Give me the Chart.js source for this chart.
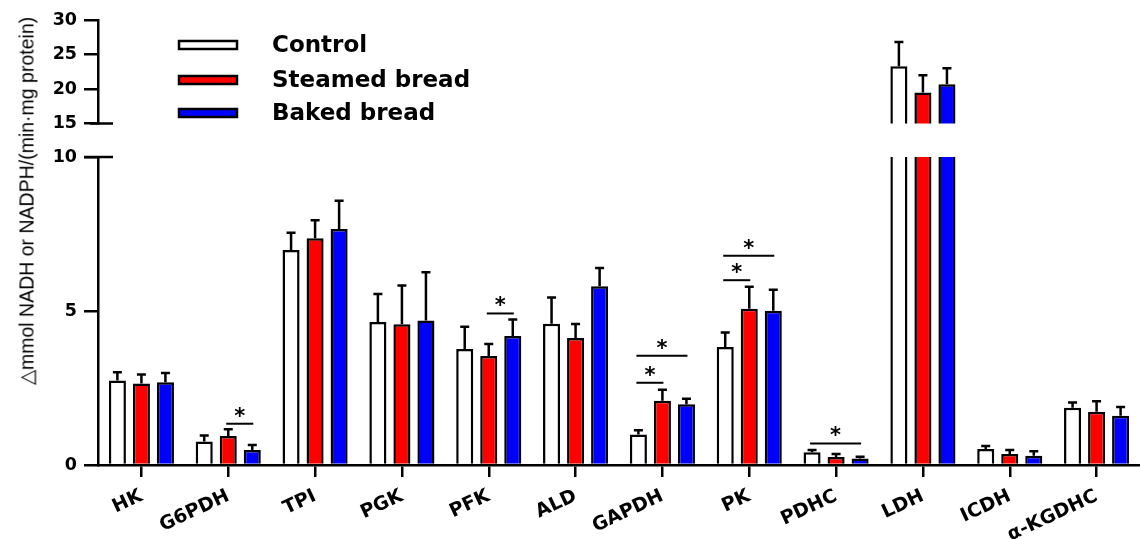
<!DOCTYPE html>
<html>
<head>
<meta charset="utf-8">
<script src="https://cdn.jsdelivr.net/npm/chart.js@4/dist/chart.umd.min.js"></script>
<style>
  html, body { margin: 0; padding: 0; background: #fff; overflow: hidden; }
  #wrap { position: relative; width: 1140px; height: 539px; }
  #topc { position: absolute; left: 0; top: 0; }
  #botc { position: absolute; left: 0; top: 130px; }
  #ytitle { position: absolute; left: 27px; top: 201px; transform: translate(-50%, -50%) rotate(-90deg);
            white-space: nowrap; font-family: 'Liberation Sans', Arial, sans-serif; font-size: 19.5px; color: #000; }
</style>
</head>
<body>
<div id="wrap">
  <canvas id="topc" width="1140" height="141"></canvas>
  <canvas id="botc" width="1140" height="409"></canvas>
  <div id="ytitle">△mmol NADH or NADPH/(min·mg protein)</div>
</div>
<script>
// ---- data ----
const categories = ['HK','G6PDH','TPI','PGK','PFK','ALD','GAPDH','PK','PDHC','LDH','ICDH','α-KGDHC'];
const seriesNames = ['Control','Steamed bread','Baked bread'];
const controlMean = [2.74, 0.76, 6.98, 4.64, 3.77, 4.59, 0.99, 3.83, 0.41, 23.3, 0.52, 1.86];
const controlSD   = [0.27, 0.20, 0.56, 0.91, 0.72, 0.85, 0.14, 0.47, 0.08, 3.5, 0.10, 0.17];
const steamedMean = [2.65, 0.94, 7.36, 4.57, 3.54, 4.12, 2.09, 5.07, 0.26, 19.5, 0.36, 1.73];
const steamedSD   = [0.29, 0.22, 0.59, 1.26, 0.39, 0.46, 0.35, 0.72, 0.10, 2.5, 0.13, 0.34];
const bakedMean   = [2.69, 0.49, 7.66, 4.69, 4.19, 5.80, 1.97, 5.01, 0.21, 20.7, 0.30, 1.60];
const bakedSD     = [0.30, 0.16, 0.92, 1.57, 0.53, 0.60, 0.18, 0.68, 0.06, 2.3, 0.15, 0.28];
// significance: [category index, series a, series b, height]
const sigCat  = [1, 4, 6, 6, 7, 7, 8];
const sigFrom = [1, 1, 0, 0, 0, 0, 0];
const sigTo   = [2, 2, 1, 2, 1, 2, 2];
const sigY    = [1.34, 4.92, 2.67, 3.55, 6.00, 6.79, 0.70];
const lowerTicks = [0, 10, 5];
const upperTicks = [15, 30, 5];

const fills = ['#ffffff', '#ff0000', '#0000ff'];
const means = [controlMean, steamedMean, bakedMean];
const sds = [controlSD, steamedSD, bakedSD];
const FONT = "'DejaVu Sans', sans-serif";

function makeDatasets() {
  return means.map((m, i) => ({
    label: seriesNames[i],
    data: m,
    backgroundColor: fills[i],
    borderColor: '#000',
    borderWidth: 2.5,
    borderSkipped: 'start',
    categoryPercentage: 0.83,
    barPercentage: 0.71,
    clip: {left: false, right: false, top: 0, bottom: 0}
  }));
}

const errorBars = {
  id: 'errorBars',
  afterDatasetsDraw(chart) {
    const ctx = chart.ctx, a = chart.chartArea, y = chart.scales.y;
    ctx.save();
    ctx.beginPath();
    ctx.rect(a.left, a.top - 2, a.right - a.left, a.bottom - a.top + 2);
    ctx.clip();
    ctx.strokeStyle = '#000';
    ctx.lineWidth = 2.5;
    means.forEach((m, di) => {
      const meta = chart.getDatasetMeta(di);
      m.forEach((v, i) => {
        const x = meta.data[i].x;
        const y0 = y.getPixelForValue(v);
        const y1 = y.getPixelForValue(v + sds[di][i]);
        ctx.beginPath();
        ctx.moveTo(x, y0); ctx.lineTo(x, y1);
        ctx.moveTo(x - 4.5, y1); ctx.lineTo(x + 4.5, y1);
        ctx.stroke();
      });
    });
    ctx.restore();
  }
};

const sigPlugin = {
  id: 'sigPlugin',
  afterDatasetsDraw(chart, args, opts) {
    if (!opts.enabled) return;
    const ctx = chart.ctx, y = chart.scales.y;
    ctx.save();
    ctx.strokeStyle = '#000';
    ctx.fillStyle = '#000';
    ctx.lineWidth = 2;
    sigCat.forEach((c, k) => {
      const xa = chart.getDatasetMeta(sigFrom[k]).data[c].x - 2;
      const xb = chart.getDatasetMeta(sigTo[k]).data[c].x + 1;
      const py = y.getPixelForValue(sigY[k]);
      ctx.beginPath(); ctx.moveTo(xa, py); ctx.lineTo(xb, py); ctx.stroke();
      ctx.font = 'bold 21px ' + FONT;
      ctx.textAlign = 'center';
      ctx.textBaseline = 'alphabetic';
      ctx.fillText('*', (xa + xb) / 2, py - 1);
    });
    ctx.restore();
  }
};

const breakMark = {
  id: 'breakMark',
  afterDraw(chart, args, opts) {
    const ctx = chart.ctx, a = chart.chartArea;
    const py = opts.where === 'bottom' ? a.bottom : a.top;
    ctx.save();
    ctx.strokeStyle = '#000';
    ctx.lineWidth = 2.5;
    ctx.beginPath();
    ctx.moveTo(a.left - (opts.where === 'bottom' ? 8 : 14), py);
    ctx.lineTo(a.left + 15, py);
    ctx.stroke();
    ctx.restore();
  }
};

const legendPlugin = {
  id: 'legendPlugin',
  afterDraw(chart, args, opts) {
    if (!opts.enabled) return;
    const ctx = chart.ctx;
    const ys = [45, 80, 113];
    ctx.save();
    seriesNames.forEach((n, i) => {
      ctx.fillStyle = fills[i];
      ctx.strokeStyle = '#000';
      ctx.lineWidth = 2.5;
      ctx.fillRect(179, ys[i] - 4, 58, 8);
      ctx.strokeRect(179, ys[i] - 4, 58, 8);
      ctx.fillStyle = '#000';
      ctx.font = 'bold 23px ' + FONT;
      ctx.textAlign = 'left';
      ctx.textBaseline = 'middle';
      ctx.fillText(n, 272, ys[i] + 1);
    });
    ctx.restore();
  }
};

function yScale(t) {
  return {
    min: t[0], max: t[1],
    ticks: { stepSize: t[2], color: '#000', font: { family: FONT, weight: 'bold', size: 17.5 }, padding: 7 },
    grid: { drawOnChartArea: false, color: '#000', lineWidth: 2.5, tickLength: 14 },
    border: { display: true, color: '#000', width: 2.5 },
    afterFit(s) { s.width = 98; }
  };
}

new Chart(document.getElementById('topc'), {
  type: 'bar',
  data: { labels: categories, datasets: makeDatasets() },
  options: {
    responsive: false, animation: false, devicePixelRatio: 1,
    layout: { padding: { top: 20, bottom: 7, left: 0, right: 0 } },
    plugins: { legend: { display: false }, tooltip: { enabled: false },
      sigPlugin: { enabled: false }, legendPlugin: { enabled: true }, breakMark: { where: 'bottom' } },
    scales: {
      x: { display: false, offset: true },
      y: yScale(upperTicks)
    }
  },
  plugins: [errorBars, sigPlugin, breakMark, legendPlugin]
});

new Chart(document.getElementById('botc'), {
  type: 'bar',
  data: { labels: categories, datasets: makeDatasets() },
  options: {
    responsive: false, animation: false, devicePixelRatio: 1,
    layout: { padding: { top: 27, bottom: 0, left: 0, right: 0 } },
    plugins: { legend: { display: false }, tooltip: { enabled: false },
      sigPlugin: { enabled: true }, legendPlugin: { enabled: false }, breakMark: { where: 'top' } },
    scales: {
      x: {
        offset: true,
        ticks: { color: '#000', font: { family: FONT, weight: 'bold', size: 19 }, minRotation: 25, maxRotation: 25, padding: 8, autoSkip: false },
        grid: { drawOnChartArea: false, offset: false, color: '#000', lineWidth: 2.5, tickLength: 12 },
        border: { display: true, color: '#000', width: 2.5 },
        afterFit(s) { s.height = 74; }
      },
      y: yScale(lowerTicks)
    }
  },
  plugins: [errorBars, sigPlugin, breakMark, legendPlugin]
});
</script>
</body>
</html>
